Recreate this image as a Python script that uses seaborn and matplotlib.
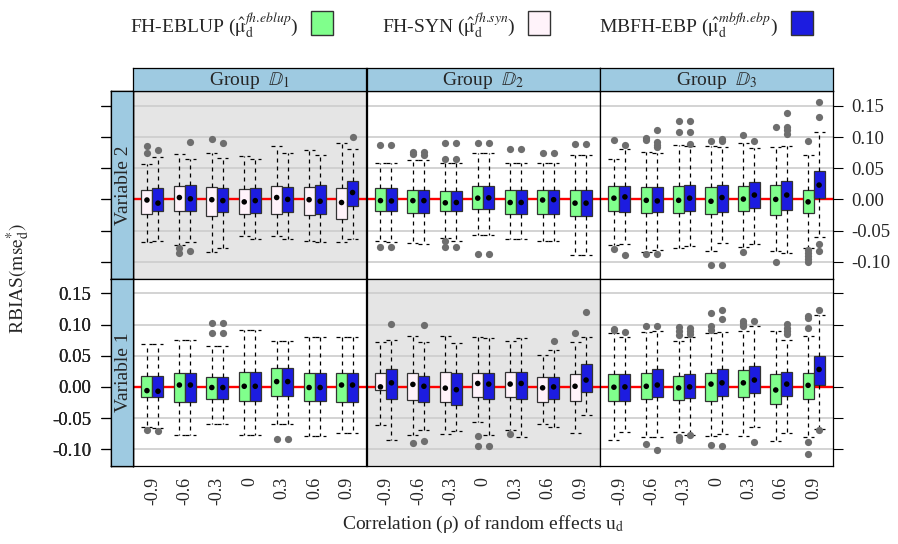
import numpy as np
import pandas as pd
import seaborn as sns
import matplotlib.pyplot as plt
from matplotlib.patches import Rectangle

# correlation levels on the x axis
rho_labels = ["-0.9", "-0.6", "-0.3", "0", "0.3", "0.6", "0.9"]
group_labels = [r"Group  $\mathbb{D}_{1}$", r"Group  $\mathbb{D}_{2}$", r"Group  $\mathbb{D}_{3}$"]
variable_labels = ["Variable 2", "Variable 1"]
ytick_vals = [-0.10, -0.05, 0.00, 0.05, 0.10, 0.15]
ytick_text = ["-0.10", "-0.05", "0.00", "0.05", "0.10", "0.15"]

# box stats per rho: (q1, median, q3, lower whisker, upper whisker)
# Variable 2, group D1 : FH-SYN vs MBFH-EBP
v2_d1_syn = [(-0.024, -0.001, 0.0145, -0.069, 0.0575), (-0.018, 0.003, 0.022, -0.073, 0.073),
             (-0.027, -0.0005, 0.020, -0.085, 0.074), (-0.024, -0.004, 0.017, -0.058, 0.070),
             (-0.023, 0.003, 0.022, -0.058, 0.0855), (-0.025, -0.0005, 0.020, -0.067, 0.079),
             (-0.031, -0.005, 0.018, -0.069, 0.091)]
v2_d1_syn_out = [[0.086, 0.075], [-0.078, -0.0855], [0.097], [], [], [], []]
v2_d1_ebp = [(-0.019, -0.006, 0.018, -0.067, 0.068), (-0.019, 0.001, 0.0225, -0.068, 0.0655),
             (-0.020, -0.002, 0.018, -0.0785, 0.067), (-0.022, -0.002, 0.018, -0.063, 0.0645),
             (-0.020, 0.000, 0.020, -0.063, 0.075), (-0.024, -0.003, 0.0225, -0.069, 0.071),
             (-0.010, 0.011, 0.030, -0.063, 0.081)]
v2_d1_ebp_out = [[0.0785], [0.0925, -0.083], [0.091], [], [], [], [0.100]]

# Variable 2, group D2 : FH-EBLUP vs MBFH-EBP
v2_d2_eblup = [(-0.018, -0.002, 0.018, -0.067, 0.0585), (-0.022, -0.002, 0.0145, -0.070, 0.0625),
               (-0.019, -0.0055, 0.0135, -0.062, 0.0585), (-0.016, 0.002, 0.0215, -0.0565, 0.074),
               (-0.024, -0.005, 0.0155, -0.0635, 0.059), (-0.023, -0.001, 0.0145, -0.066, 0.0585),
               (-0.027, -0.006, 0.0145, -0.089, 0.072)]
v2_d2_eblup_out = [[0.088, -0.076], [0.076, 0.0725], [0.090, 0.0645, -0.067, -0.076],
                   [0.091, -0.088], [0.081], [0.075], [0.089]]
v2_d2_ebp = [(-0.019, -0.0025, 0.018, -0.068, 0.0585), (-0.022, -0.002, 0.0145, -0.0715, 0.0625),
             (-0.019, -0.005, 0.0135, -0.066, 0.0585), (-0.016, 0.0025, 0.0215, -0.0565, 0.074),
             (-0.024, -0.005, 0.0155, -0.0635, 0.059), (-0.023, -0.0005, 0.0145, -0.066, 0.0585),
             (-0.027, -0.006, 0.0145, -0.089, 0.072)]
v2_d2_ebp_out = [[0.0875, -0.076], [0.076, 0.072], [0.090, 0.0645, -0.076], [0.091, -0.088],
                 [0.081], [0.075], [0.089]]

# Variable 2, group D3 : FH-EBLUP vs MBFH-EBP
v2_d3_eblup = [(-0.019, 0.002, 0.0215, -0.073, 0.0645), (-0.0225, -0.0015, 0.0195, -0.084, 0.076),
               (-0.0215, -0.0015, 0.022, -0.0775, 0.087), (-0.023, -0.003, 0.0205, -0.083, 0.0855),
               (-0.019, 0.0005, 0.0215, -0.076, 0.090), (-0.025, 0.000, 0.023, -0.083, 0.0845),
               (-0.022, -0.004, 0.0155, -0.0775, 0.072)]
v2_d3_eblup_out = [[0.0955, -0.080], [0.099, 0.0955, -0.088], [0.126, 0.1075], [0.0945, -0.106],
                   [0.103, -0.0845], [0.1165, -0.1005],
                   [0.0935, -0.081, -0.0865, -0.0915, -0.096, -0.101]]
v2_d3_ebp = [(-0.020, 0.004, 0.0215, -0.0715, 0.0805), (-0.021, -0.0025, 0.0205, -0.081, 0.074),
             (-0.018, 0.002, 0.023, -0.075, 0.0855), (-0.0205, 0.003, 0.0225, -0.070, 0.084),
             (-0.0145, 0.007, 0.028, -0.0715, 0.082), (-0.0175, 0.007, 0.029, -0.086, 0.086),
             (0.0025, 0.023, 0.0455, -0.060, 0.1085)]
v2_d3_ebp_out = [[0.0875, -0.0885], [0.111, 0.0925, 0.088, 0.0845, -0.0875], [0.126, 0.1075, 0.0885],
                 [0.097, 0.094, -0.106], [0.0945], [0.1385, 0.116, 0.111, 0.105],
                 [0.157, 0.1315, -0.0715, -0.083]]

# Variable 1, group D1 : FH-EBLUP vs MBFH-EBP
v1_d1_eblup = [(-0.0155, -0.006, 0.018, -0.0645, 0.069), (-0.024, 0.003, 0.0225, -0.0775, 0.0745),
               (-0.020, -0.001, 0.0165, -0.060, 0.0655), (-0.022, 0.001, 0.024, -0.0775, 0.092),
               (-0.015, 0.0085, 0.030, -0.059, 0.073), (-0.023, -0.001, 0.0215, -0.079, 0.0795),
               (-0.025, 0.003, 0.023, -0.0745, 0.0805)]
v1_d1_eblup_out = [[-0.0695], [], [0.103, 0.0865], [], [-0.083], [], []]
v1_d1_ebp = [(-0.017, -0.007, 0.017, -0.0655, 0.069), (-0.024, 0.003, 0.0225, -0.0775, 0.0745),
             (-0.020, -0.001, 0.0165, -0.060, 0.0655), (-0.022, 0.001, 0.024, -0.0775, 0.092),
             (-0.015, 0.0085, 0.030, -0.059, 0.073), (-0.023, -0.001, 0.0215, -0.079, 0.0795),
             (-0.025, 0.003, 0.023, -0.0745, 0.0805)]
v1_d1_ebp_out = [[-0.0705], [], [0.103, 0.0865], [], [-0.083], [], []]

# Variable 1, group D2 : FH-SYN vs MBFH-EBP
v1_d2_syn = [(-0.005, 0.000, 0.023, -0.061, 0.0715), (-0.0215, 0.004, 0.0215, -0.0775, 0.0815),
             (-0.025, -0.002, 0.024, -0.076, 0.082), (-0.0155, 0.0055, 0.022, -0.057, 0.0795),
             (-0.016, 0.0045, 0.0235, -0.069, 0.0735), (-0.0245, -0.0015, 0.0155, -0.060, 0.051),
             (-0.022, 0.001, 0.020, -0.0735, 0.0725)]
v1_d2_syn_out = [[], [-0.090], [], [-0.0795, -0.095], [-0.076], [], [0.0865]]
v1_d2_ebp = [(-0.019, 0.0065, 0.0285, -0.0855, 0.076), (-0.0235, 0.001, 0.017, -0.069, 0.0715),
             (-0.029, -0.0045, 0.023, -0.071, 0.070), (-0.019, 0.0045, 0.023, -0.0775, 0.078),
             (-0.019, 0.0055, 0.0235, -0.0805, 0.079), (-0.019, 0.000, 0.016, -0.0645, 0.0585),
             (-0.009, 0.011, 0.0365, -0.045, 0.0805)]
v1_d2_ebp_out = [[0.101], [0.0995, -0.087], [], [-0.095], [], [0.0735], [0.1195]]

# Variable 1, group D3 : FH-EBLUP vs MBFH-EBP
v1_d3_eblup = [(-0.023, -0.0005, 0.021, -0.0845, 0.0865), (-0.0195, 0.001, 0.023, -0.081, 0.0875),
               (-0.0205, -0.0015, 0.0175, -0.073, 0.073), (-0.022, 0.0045, 0.0215, -0.0785, 0.0865),
               (-0.0155, 0.0065, 0.0275, -0.0785, 0.090), (-0.027, -0.005, 0.021, -0.0865, 0.090),
               (-0.0195, 0.0025, 0.0225, -0.080, 0.082)]
v1_d3_eblup_out = [[0.0915, 0.0935], [0.098, -0.0915], [0.0955, 0.089, 0.083, -0.0805, -0.0845],
                   [0.119, 0.097, 0.0915, -0.0925], [0.1065, 0.102, 0.097], [],
                   [0.1135, 0.110, 0.095, -0.0885, -0.1075]]
v1_d3_ebp = [(-0.023, 0.000, 0.020, -0.073, 0.0795), (-0.0165, 0.003, 0.028, -0.081, 0.089),
             (-0.018, 0.000, 0.021, -0.077, 0.0795), (-0.015, 0.0065, 0.028, -0.076, 0.0875),
             (-0.010, 0.011, 0.034, -0.065, 0.097), (-0.015, 0.0045, 0.0245, -0.0735, 0.0755),
             (0.003, 0.028, 0.050, -0.0675, 0.116)]
v1_d3_ebp_out = [[0.088], [0.098, -0.102], [0.0945, 0.090, 0.085, -0.0775], [0.1235, 0.1085, -0.095],
                 [0.105, -0.0885], [0.101, 0.0945, 0.090, 0.0855], [0.123, -0.069]]

# colours
GREEN = "#80FF8C"
SYN = "#FFF3FA"
BLUE = "#1C1CE0"
STRIP = "#9ECAE1"
SHADE = "#E5E5E5"
GRID = "#CCCCCC"

# panels: row 0 = Variable 2, row 1 = Variable 1
panels = {
    (0, 0): ("syn", v2_d1_syn, v2_d1_syn_out, v2_d1_ebp, v2_d1_ebp_out),
    (0, 1): ("eblup", v2_d2_eblup, v2_d2_eblup_out, v2_d2_ebp, v2_d2_ebp_out),
    (0, 2): ("eblup", v2_d3_eblup, v2_d3_eblup_out, v2_d3_ebp, v2_d3_ebp_out),
    (1, 0): ("eblup", v1_d1_eblup, v1_d1_eblup_out, v1_d1_ebp, v1_d1_ebp_out),
    (1, 1): ("syn", v1_d2_syn, v1_d2_syn_out, v1_d2_ebp, v1_d2_ebp_out),
    (1, 2): ("eblup", v1_d3_eblup, v1_d3_eblup_out, v1_d3_ebp, v1_d3_ebp_out),
}

sns.set_theme(style="white")
plt.rcParams["font.family"] = ["Liberation Serif", "DejaVu Serif"]
plt.rcParams["mathtext.fontset"] = "stix"
plt.rcParams["axes.edgecolor"] = "black"
plt.rcParams["axes.linewidth"] = 0.9

W, H = 898, 544
fig = plt.figure(figsize=(W / 100, H / 100), dpi=100)


def px_axes(x0, y0, x1, y1):
    return fig.add_axes([x0 / W, 1 - y1 / H, (x1 - x0) / W, (y1 - y0) / H])


def to_stats(boxes, outs):
    stats = []
    for (q1, med, q3, lo, hi), fl in zip(boxes, outs):
        stats.append(dict(q1=q1, med=med, q3=q3, whislo=lo, whishi=hi, fliers=fl))
    return stats


col_x = [133, 366.5, 600, 833]
row_y = [91, 278.5, 466]
YLIM = (-0.127, 0.174)
XLIM = (0.4, 7.6)
pos = np.arange(1, len(rho_labels) + 1)
off, bw = 0.17, 0.34
dash = (0, (3.2, 3.2))

for (r, c), (kind, left_box, left_out, right_box, right_out) in panels.items():
    ax = px_axes(col_x[c], row_y[r], col_x[c + 1], row_y[r + 1])
    ax.set_facecolor(SHADE if kind == "syn" else "white")
    for t in ytick_vals:
        ax.axhline(t, color=GRID, lw=1.2, zorder=0)
    ax.axhline(0, color="red", lw=1.7, zorder=1)

    left_col = SYN if kind == "syn" else GREEN
    for boxes, outs, shift, fc in [(left_box, left_out, -off, left_col),
                                   (right_box, right_out, off, BLUE)]:
        ax.bxp(to_stats(boxes, outs), positions=pos + shift, widths=bw, capwidths=bw,
               patch_artist=True, manage_ticks=False, zorder=2,
               boxprops=dict(facecolor=fc, edgecolor="#333333", lw=0.9),
               whiskerprops=dict(color="black", lw=0.9, ls=dash),
               capprops=dict(color="black", lw=0.9, ls=dash),
               medianprops=dict(lw=0),
               flierprops=dict(marker="o", markerfacecolor="#6E6E6E",
                               markeredgecolor="none", markersize=5.2))
        meds = [b[1] for b in boxes]
        sns.scatterplot(x=pos + shift, y=meds, color="black", s=16, edgecolor="none",
                        ax=ax, zorder=4, legend=False)

    ax.set_xlim(XLIM)
    ax.set_ylim(YLIM)
    ax.set_xlabel("")
    ax.set_ylabel("")
    ax.set_xticks(pos)
    ax.set_yticks(ytick_vals)
    if r == 1:
        ax.set_xticklabels(rho_labels, rotation=90, fontsize=13)
        ax.tick_params(axis="x", bottom=True, length=0, pad=8)
    else:
        ax.tick_params(axis="x", bottom=False, labelbottom=False)
    ax.tick_params(axis="y", left=False, labelleft=False)
    if c == 2:
        ax.tick_params(axis="y", right=True, labelright=(r == 0), length=7.5,
                       width=0.8, color="black", pad=6, labelsize=13.5)
        ax.set_yticklabels(ytick_text)

    # strip on the left with the outer y ticks
    sax = px_axes(111, row_y[r], 133, row_y[r + 1])
    sax.set_facecolor(STRIP)
    sax.set_ylim(YLIM)
    sax.set_xticks([])
    sax.set_yticks(ytick_vals)
    sax.set_yticklabels(ytick_text)
    sax.tick_params(axis="y", left=True, labelleft=(r == 1), length=7.5, width=0.8,
                    color="black", pad=6.5, labelsize=13.5)
    sax.text(0.55, 0.5, variable_labels[r], rotation=90, ha="center", va="center",
             fontsize=14, transform=sax.transAxes)

# strips on top
for c in range(3):
    tax = px_axes(col_x[c], 68, col_x[c + 1], 91)
    tax.set_facecolor(STRIP)
    tax.set_xticks([])
    tax.set_yticks([])
    tax.text(0.5, 0.45, group_labels[c], ha="center", va="center", fontsize=14,
             transform=tax.transAxes)

# legend on top
legend_items = [
    (r"FH-EBLUP ($\hat{\mathrm{μ}}_{\mathrm{d}}^{fh.\!eblup}$)", GREEN, 130, 311),
    (r"FH-SYN ($\hat{\mathrm{μ}}_{\mathrm{d}}^{fh.\!syn}$)", SYN, 382, 528),
    (r"MBFH-EBP ($\hat{\mathrm{μ}}_{\mathrm{d}}^{mbfh.\!ebp}$)", BLUE, 599, 791),
]
for label, fc, tx, sx in legend_items:
    fig.text(tx / W, 1 - 25 / H, label, ha="left", va="center", fontsize=14)
    fig.patches.append(Rectangle((sx / W, 1 - 35 / H), 22 / W, 24 / H,
                                 transform=fig.transFigure, facecolor=fc,
                                 edgecolor="#333333", lw=1))

fig.text(18 / W, 1 - 279 / H, r"RBIAS$(\mathrm{mse}_{\mathrm{d}}^{*})$", rotation=90,
         ha="center", va="center", fontsize=14)
fig.text(483 / W, 1 - 524 / H, "Correlation (ρ) of random effects u$_{\\mathrm{d}}$",
         ha="center", va="center", fontsize=14)

fig.savefig("out.png", dpi=100)
